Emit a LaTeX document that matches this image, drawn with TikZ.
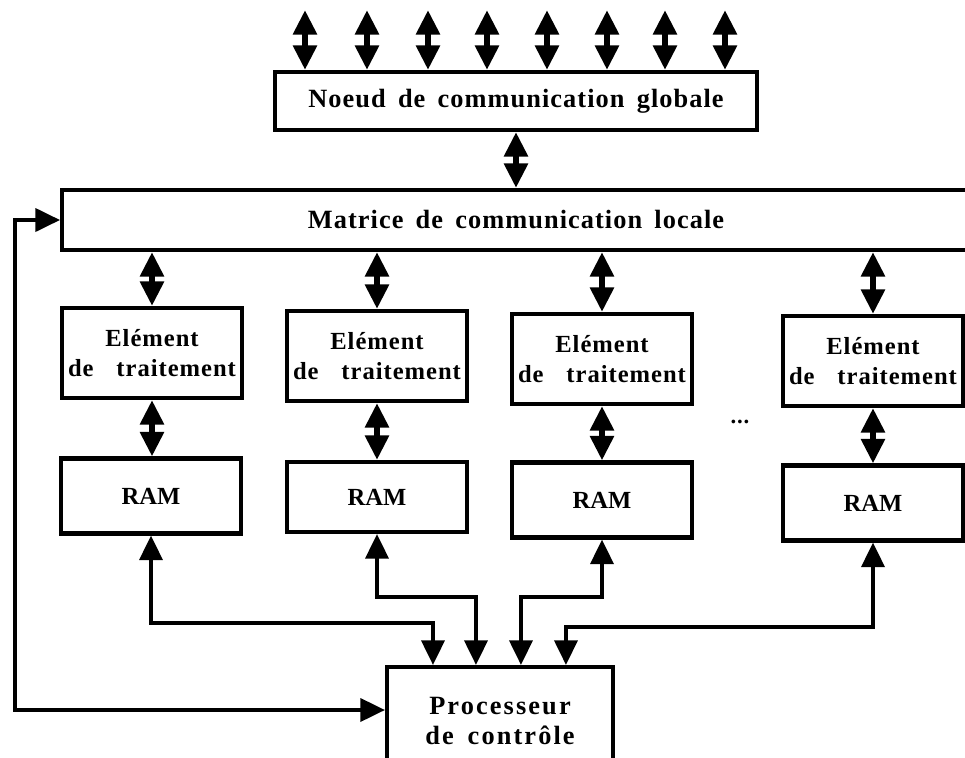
\documentclass[tikz,border=0pt]{standalone}
\usepackage{fontspec}
\setmainfont{Liberation Serif}[LetterSpace=4,WordSpace=1.6]
\newfontfamily\pefont{Liberation Serif}[LetterSpace=4,WordSpace=3.2]
\usetikzlibrary{arrows.meta}

\begin{document}
\begin{tikzpicture}[x=0.02cm, y=-0.02cm, line width=2.3pt]
        \tikzset{
            box/.style={draw, rectangle, inner sep=0pt, align=center,
                        font=\bfseries\fontsize{15}{17.5}\selectfont},
            pe/.style={box, minimum width=3.6cm, minimum height=1.8cm,
                        font=\pefont\bfseries\fontsize{14}{17}\selectfont},
            ram/.style={box, minimum width=3.6cm, minimum height=1.5cm,
                        font=\bfseries\fontsize{14}{17}\selectfont\addfontfeatures{LetterSpace=0}},
            both/.style={{Triangle[length=14pt,width=13pt]}-{Triangle[length=14pt,width=13pt]}},
            biarrow/.style={both, line width=3.5pt}
        }
        \useasboundingbox (0,0) rectangle (965,758);

        \node[box, minimum width=9.64cm, minimum height=1.16cm] (noeud) at (516,101) {Noeud de communication globale};
        \node[box, minimum width=18.16cm, minimum height=1.2cm] (matrice) at (516,220) {Matrice de communication locale};

        \node[pe] (e1) at (152,353) {Elément\\de traitement};
        \node[pe] (e2) at (377,356) {Elément\\de traitement};
        \node[pe] (e3) at (602,359) {Elément\\de traitement};
        \node[pe] (e4) at (873,361) {Elément\\de traitement};

        \node[ram] (r1) at (151,496) {RAM};
        \node[ram, minimum height=1.4cm] (r2) at (377,497) {RAM};
        \node[ram] (r3) at (602,500) {RAM};
        \node[ram] (r4) at (873,503) {RAM};

        \node[font=\bfseries\fontsize{13}{15}\selectfont] (dots) at (740,422) {...};

        \node[box, minimum width=4.52cm, minimum height=2.16cm,
              font=\bfseries\fontsize{15}{17.5}\selectfont\addfontfeatures{LetterSpace=8}] (proc) at (500,721) {Processeur\\de contrôle};

        % entrees du noeud global
        \foreach \x in {305,367,428,487,547,607,665,725} {
            \coordinate (t\x) at (\x,10);
            \draw[biarrow] (t\x) -- (t\x |- noeud.north);
        }
        \draw[biarrow] (noeud.south) -- (noeud.south |- matrice.north);

        \foreach \i in {1,...,4} {
            \draw[biarrow] (matrice.south -| e\i.north) -- (e\i.north);
            \draw[biarrow] (e\i.south) -- (e\i.south |- r\i.north);
        }

        % liaisons RAM - processeur
        \coordinate (p1) at ([xshift=0.96cm]proc.north west);
        \coordinate (p2) at ([xshift=1.82cm]proc.north west);
        \coordinate (p3) at ([xshift=2.72cm]proc.north west);
        \coordinate (p4) at ([xshift=3.62cm]proc.north west);
        \coordinate (l1) at (0,623);
        \coordinate (l2) at (0,597);
        \coordinate (l4) at (0,627);

        \draw[both] (r1.south) -- (r1.south |- l1) -| (p1);
        \draw[both] (r2.south) -- (r2.south |- l2) -| (p2);
        \draw[both] (r3.south) -- (r3.south |- l2) -| (p3);
        \draw[both] (r4.south) -- (r4.south |- l4) -| (p4);

        % retour vers la matrice
        \coordinate (lf) at (15,710);
        \draw[both] (matrice.west) -| (lf) -- (lf -| proc.west);
\end{tikzpicture}
\end{document}
